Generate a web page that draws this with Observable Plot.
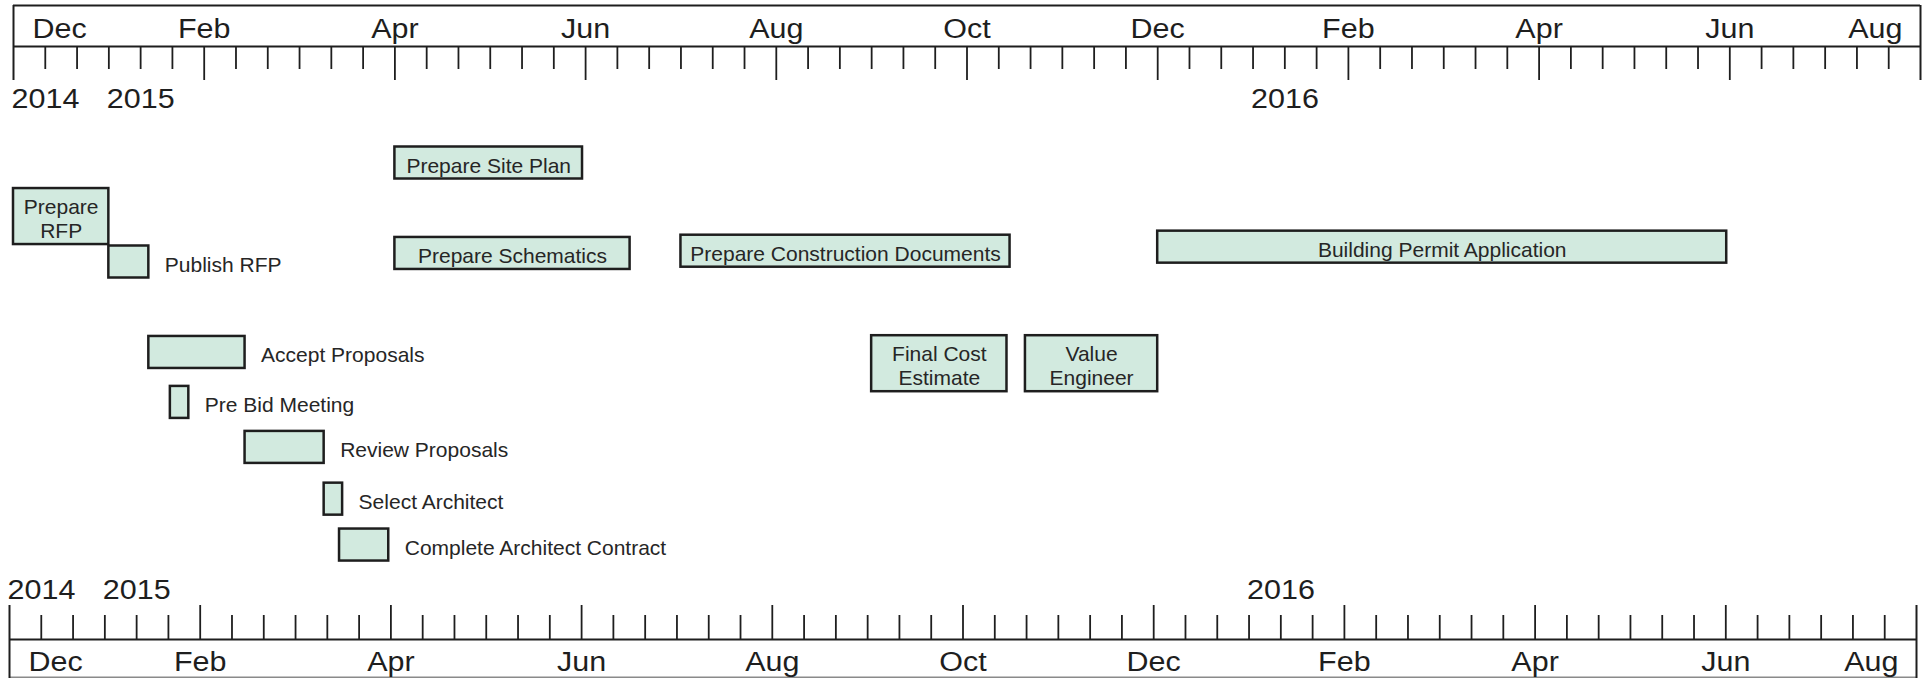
<!DOCTYPE html>
<html>
<head>
<meta charset="utf-8">
<script src="https://cdn.jsdelivr.net/npm/d3@7"></script>
<script src="https://cdn.jsdelivr.net/npm/@observablehq/plot@0.6"></script>
<style>
  html, body { margin: 0; padding: 0; background: #fff; }
</style>
</head>
<body>
<div id="chart"></div>
<script>
// ---------- data ----------
const monthLabels = ["Dec", "Feb", "Apr", "Jun", "Aug", "Oct", "Dec", "Feb", "Apr", "Jun", "Aug"];
const monthLabelDates = ["2014-12-01", "2015-02-01", "2015-04-01", "2015-06-01", "2015-08-01", "2015-10-01",
                         "2015-12-01", "2016-02-01", "2016-04-01", "2016-06-01", "2016-08-01"];
const yearLabels = ["2014", "2015", "2016"];
const yearLabelDates = ["2014-12-01", "2015-01-01", "2016-01-01"];

const taskLabels = [
  "Prepare\nRFP", "Publish RFP", "Accept Proposals", "Pre Bid Meeting", "Review Proposals",
  "Select Architect", "Complete Architect Contract", "Prepare Site Plan", "Prepare Schematics",
  "Prepare Construction Documents", "Final Cost\nEstimate", "Value\nEngineer", "Building Permit Application"
];
const taskStarts = [
  "2014-12-01", "2015-01-01", "2015-01-14", "2015-01-21", "2015-02-13",
  "2015-03-09", "2015-03-14", "2015-04-01", "2015-04-01",
  "2015-07-01", "2015-09-01", "2015-10-20", "2015-12-01"
];
const taskEnds = [
  "2015-01-01", "2015-01-14", "2015-02-13", "2015-01-27", "2015-03-09",
  "2015-03-15", "2015-03-30", "2015-05-31", "2015-06-15",
  "2015-10-15", "2015-10-14", "2015-12-01", "2016-05-31"
];
// vertical lane of each task in the free-form layout
const taskLanes = [2.19, 3.20, 5.21, 6.32, 7.32, 8.47, 9.49, 1.00, 3.01, 2.96, 5.46, 5.46, 2.87];

// ---------- helpers ----------
// months since 1 Dec 2014 (each month drawn with equal width, as in the original timescale)
function toM(s) {
  const [y, m, d] = s.split("-").map(Number);
  const days = new Date(y, m, 0).getDate();
  return (y - 2014) * 12 + (m - 12) + (d - 1) / days;
}

const W = 1931, H = 678;
const ink = "#1e1e1e";
const fontFamily = "'Liberation Sans', Arial, Helvetica, sans-serif";
const axisFont = 27;
const yOpts = {type: "linear", domain: [0, 10], range: [117.5, 567.5]};
const ys = Plot.scale({y: yOpts});
const py = px => ys.invert(px);
const pxPerLane = (yOpts.range[1] - yOpts.range[0]) / (yOpts.domain[1] - yOpts.domain[0]);
const pxPerMonth = (W - 13 - 11) / 20;

const tasks = taskLabels.map((label, i) => ({
  label, start: toM(taskStarts[i]), end: toM(taskEnds[i]), lane: taskLanes[i]
}));

// decide label placement from measured text width
const ctx = document.createElement("canvas").getContext("2d");
ctx.font = `21px ${fontFamily}`;
tasks.forEach(t => {
  const w = Math.max(...t.label.split("\n").map(l => ctx.measureText(l).width));
  t.inside = w + 8 < (t.end - t.start) * pxPerMonth;
  t.half = t.label.includes("\n") ? 28 : 16;
});

const months = monthLabels.map((label, i) => ({label, m: toM(monthLabelDates[i])}));
const years = yearLabels.map((label, i) => ({label, m: toM(yearLabelDates[i])}));

const allTicks = d3.range(1, 60).map(k => k / 3);
const majorTicks = allTicks.filter((v, k) => (k + 1) % 6 === 0);
const minorTicks = allTicks.filter((v, k) => (k + 1) % 6 !== 0);
const edges = [0, 20];

function axisMarks(o) {
  const dx = o.dx;
  return [
    Plot.ruleY(o.hlines, {y: d => py(d.y), x1: () => 0, x2: () => 20, dx, stroke: d => d.c, strokeWidth: 2}),
    Plot.ruleX(minorTicks, {x: d => d, y1: () => py(o.base), y2: () => py(o.minor), dx, stroke: ink, strokeWidth: 1.8}),
    Plot.ruleX(majorTicks, {x: d => d, y1: () => py(o.base), y2: () => py(o.major), dx, stroke: ink, strokeWidth: 1.8}),
    Plot.ruleX(edges, {x: d => d, y1: () => py(o.edgeA), y2: () => py(o.edgeB), dx, stroke: ink, strokeWidth: 2}),
    Plot.text(months.slice(0, 1), {x: "m", y: () => py(o.monthBase), text: "label", textAnchor: "start", lineAnchor: "bottom",
      dx: dx + 19, fontSize: axisFont, fill: ink}),
    Plot.text(months.slice(1, -1), {x: "m", y: () => py(o.monthBase), text: "label", textAnchor: "middle", lineAnchor: "bottom",
      dx: dx, fontSize: axisFont, fill: ink}),
    Plot.text(months.slice(-1), {x: "m", y: () => py(o.monthBase), text: "label", textAnchor: "end", lineAnchor: "bottom",
      dx: dx - 18, fontSize: axisFont, fill: ink}),
    Plot.text(years, {x: "m", y: () => py(o.yearBase), text: "label", textAnchor: "start", lineAnchor: "bottom",
      dx: dx - 2, fontSize: axisFont, fill: ink})
  ];
}

const plot = Plot.plot({
  width: W, height: H,
  marginLeft: 13, marginRight: 11, marginTop: 0, marginBottom: 0,
  x: {type: "linear", domain: [0, 20], axis: null},
  y: {...yOpts, axis: null},
  style: {fontFamily, background: "#fff", overflow: "visible"},
  marks: [
    // top timescale
    ...axisMarks({dx: 0, hlines: [{y: 5, c: ink}, {y: 46, c: ink}], base: 46, minor: 69, major: 80,
                  edgeA: 5, edgeB: 80, monthBase: 37, yearBase: 107}),
    // bottom timescale
    ...axisMarks({dx: -4, hlines: [{y: 639, c: ink}, {y: 677, c: "#8a8a8a"}], base: 639, minor: 615, major: 605,
                  edgeA: 605, edgeB: 678, monthBase: 670, yearBase: 598}),
    // task bars
    Plot.rect(tasks, {
      x1: "start", x2: "end",
      y1: d => d.lane - d.half / pxPerLane, y2: d => d.lane + d.half / pxPerLane,
      fill: "#d2eadf", stroke: ink, strokeWidth: 2.5
    }),
    Plot.text(tasks.filter(d => d.inside), {
      x: d => (d.start + d.end) / 2, y: "lane", text: "label",
      textAnchor: "middle", lineAnchor: "middle", lineHeight: 1.12, dy: 2,
      fontSize: 21, fill: "#262626"
    }),
    Plot.text(tasks.filter(d => !d.inside), {
      x: "end", y: "lane", text: "label",
      textAnchor: "start", lineAnchor: "middle", dx: 16, dy: 3,
      fontSize: 21, fill: "#262626"
    })
  ]
});

// the scanned timescale lettering is wider than the font: stretch it horizontally about its anchor
const stretch = 1.13;
plot.querySelectorAll("text").forEach(t => {
  const g = t.closest("g[font-size]");
  if (!g || +g.getAttribute("font-size") !== axisFont) return;
  const tr = t.getAttribute("transform");
  if (tr) {
    t.setAttribute("transform", tr + ` scale(${stretch},1)`);
  } else {
    const x = +(t.getAttribute("x") || 0), y = +(t.getAttribute("y") || 0);
    t.setAttribute("transform", `translate(${x},${y}) scale(${stretch},1) translate(${-x},${-y})`);
  }
});

document.getElementById("chart").appendChild(plot);
</script>
</body>
</html>
